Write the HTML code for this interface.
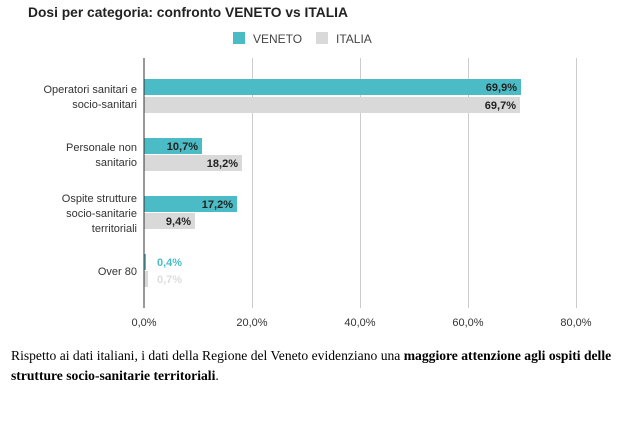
<!DOCTYPE html>
<html><head><meta charset="utf-8"><style>
body{margin:0;background:#fff;width:635px;height:427px;overflow:hidden}
svg{position:absolute;left:0;top:0}
.p{position:absolute;left:11px;top:346px;width:624px;font:13.6px "Liberation Serif",serif;line-height:20px;color:#000}
</style></head><body>
<svg width="635" height="427" font-family="Liberation Sans, sans-serif">
<text x="28" y="17" font-size="13.8" font-weight="bold" fill="#222">Dosi per categoria: confronto VENETO vs ITALIA</text>
<rect x="233" y="32" width="12" height="12" fill="#4bbcc6"/>
<text x="253" y="43" font-size="12" fill="#444">VENETO</text>
<rect x="316" y="32" width="12" height="12" fill="#d9d9d9"/>
<text x="336" y="43" font-size="12" fill="#444">ITALIA</text>
<g stroke="#ccc" stroke-width="1">
<line x1="252.5" y1="58" x2="252.5" y2="308"/><line x1="360.5" y1="58" x2="360.5" y2="308"/>
<line x1="468.5" y1="58" x2="468.5" y2="308"/><line x1="576.5" y1="58" x2="576.5" y2="308"/>
</g>
<rect x="144" y="79" width="377" height="16" fill="#4bbcc6"/>
<rect x="144" y="97" width="376" height="16" fill="#d9d9d9"/>
<rect x="144" y="138" width="58" height="16" fill="#4bbcc6"/>
<rect x="144" y="155" width="98" height="16" fill="#d9d9d9"/>
<rect x="144" y="196" width="93" height="16" fill="#4bbcc6"/>
<rect x="144" y="213" width="51" height="16" fill="#d9d9d9"/>
<rect x="144" y="254" width="2" height="16" fill="#4bbcc6"/>
<rect x="144" y="271" width="4" height="16" fill="#d9d9d9"/>
<line x1="144" y1="58" x2="144" y2="308" stroke="#333" stroke-width="1"/>
<g font-size="11" font-weight="bold" fill="#222" text-anchor="end">
<text x="517" y="91">69,9%</text><text x="516" y="109">69,7%</text>
<text x="198" y="150">10,7%</text><text x="238" y="167">18,2%</text>
<text x="233" y="208">17,2%</text><text x="191" y="225">9,4%</text>
</g>
<text x="157" y="266" font-size="11" font-weight="bold" fill="#4bbcc6">0,4%</text>
<text x="157" y="283" font-size="11" font-weight="bold" fill="#ddd">0,7%</text>
<g font-size="11" fill="#333" text-anchor="end">
<text x="137" y="93">Operatori sanitari e</text><text x="137" y="108">socio-sanitari</text>
<text x="137" y="151">Personale non</text><text x="137" y="166">sanitario</text>
<text x="137" y="202">Ospite strutture</text><text x="137" y="217">socio-sanitarie</text><text x="137" y="232">territoriali</text>
<text x="137" y="275">Over 80</text>
</g>
<g font-size="11" fill="#333" text-anchor="middle">
<text x="144" y="326">0,0%</text><text x="252" y="326">20,0%</text><text x="360" y="326">40,0%</text>
<text x="468" y="326">60,0%</text><text x="576" y="326">80,0%</text>
</g>
</svg>
<div class="p">Rispetto ai dati italiani, i dati della Regione del Veneto evidenziano una <b>maggiore attenzione agli ospiti delle strutture socio-sanitarie territoriali</b>.</div>
</body></html>
